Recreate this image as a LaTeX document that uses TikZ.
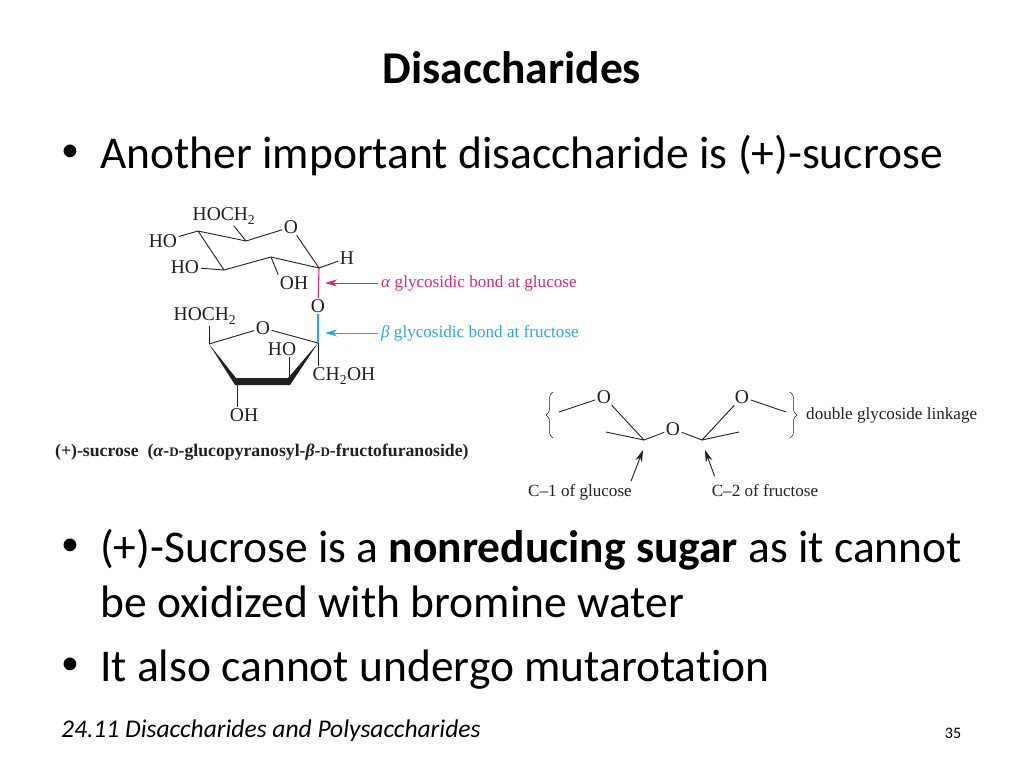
\documentclass[tikz,border=0pt]{standalone}
\usepackage{fontspec}
\setmainfont[RawFeature={-liga;-clig}]{Carlito}
\newfontfamily\chemfont{Liberation Serif}
\usetikzlibrary{arrows.meta,decorations.pathreplacing}
\definecolor{chemink}{HTML}{231F20}
\definecolor{alphapink}{HTML}{D9267F}
\definecolor{betablue}{HTML}{29A8E0}
\tikzset{
  slidetext/.style={anchor=base west,inner sep=0pt,font=\fontsize{45.5}{55}\selectfont,align=left},
  bullettext/.style={anchor=base west,inner sep=0pt,font=\fontsize{36}{40}\selectfont},
  atom/.style={inner sep=1.5pt,text=chemink,font=\chemfont\fontsize{19.5}{21}\selectfont},
  caption/.style={inner sep=3pt,font=\chemfont\fontsize{17.1}{19}\selectfont},
  bond/.style={draw=chemink,line width=0.9pt},
  pointer/.style={-{Stealth[length=12pt,width=7pt]},line width=0.9pt},
}
\begin{document}
\begin{tikzpicture}[x=1pt,y=-1pt]
    \useasboundingbox (0,0) rectangle (1024,768);

    % Slide text
    \node[anchor=base,inner sep=0pt,font=\fontsize{45.5}{50}\selectfont\bfseries] (title) at (512,83) {Disaccharides};
    \node[bullettext] (bulleta) at (61,161) {•};
    \node[slidetext] (linea) at (100,168) {Another important disaccharide is (+)-sucrose};
    \node[bullettext] (bulletb) at (61,555) {•};
    \node[slidetext] (lineb) at (100,617) {(+)-Sucrose is a \textbf{nonreducing sugar} as it cannot\\be oxidized with bromine water};
    \node[bullettext] (bulletc) at (61,674) {•};
    \node[slidetext] (linec) at (100,681) {It also cannot undergo mutarotation};
    \node[anchor=base west,inner sep=0pt,font=\fontsize{25.5}{28}\selectfont\itshape] (footer) at (61,737) {24.11 Disaccharides and Polysaccharides};
    \node[anchor=base,inner sep=0pt,font=\fontsize{16}{20}\selectfont] (pagenum) at (953,738) {35};

    % Glucose ring
    \coordinate (ga) at (198,231);
    \coordinate (gb) at (246,241);
    \coordinate (gc) at (319,268);
    \coordinate (gd) at (271,257);
    \coordinate (ge) at (224,270);
    \node[atom] (go) at (291,227) {O};
    \node[atom] (ghoch) at (224,216) {HOCH\textsubscript{2}};
    \node[atom] (gho) at (163,241) {HO};
    \node[atom] (ghob) at (185,267) {HO};
    \node[atom] (goh) at (294,283) {OH};
    \node[atom] (gh) at (347,258) {H};
    \draw[bond] (ga) -- (gb) -- (go) -- (gc) -- (gd) -- (ge) -- (ga);
    \draw[bond] (ghoch.-45) -- (gb);
    \draw[bond] (gho) -- (ga);
    \draw[bond] (ghob) -- (ge);
    \draw[bond] (gd) -- (goh.north west);
    \draw[bond] (gc) -- (gh);

    % Bridge oxygen
    \node[atom] (bridge) at (318,306) {O};
    \draw[draw=alphapink,line width=1.1pt] (gc) -- (bridge);

    % Fructose ring
    \coordinate (fa) at (209,344);
    \coordinate (fb) at (237,382);
    \coordinate (fc) at (289,382);
    \coordinate (fd) at (318,343);
    \coordinate (fbt) at (236,378);
    \coordinate (fct) at (288,378);
    \coordinate (fcb) at (290,385);
    \coordinate (fbb) at (235,385);
    \node[atom] (fo) at (263,328) {O};
    \node[atom] (fhoch) at (205,316) {HOCH\textsubscript{2}};
    \node[atom] (fho) at (282,349) {HO};
    \node[atom] (fch) at (344,376) {CH\textsubscript{2}OH};
    \node[atom] (foh) at (244,415) {OH};
    \draw[bond] (fa) -- (fo) -- (fd);
    \fill[chemink] (fa) -- (fbt) -- (fct) -- (fd) -- (fcb) -- (fbb) -- cycle;
    \draw[bond] (fa |- fhoch.south) -- (fa);
    \draw[bond] (fc |- fho.south) -- (fc);
    \draw[bond] (fd) -- (fd |- fch.north);
    \draw[bond] (fb) -- (fb |- foh.north);
    \draw[draw=betablue,line width=1.1pt] (bridge) -- (fd);

    % Bond labels
    \coordinate (alphatip) at (325,283);
    \coordinate (betatip) at (325,333);
    \node[caption,anchor=west,text=alphapink] (alphalabel) at (378,283) {\textit{α} glycosidic bond at glucose};
    \node[caption,anchor=west,text=betablue] (betalabel) at (378,333) {\textit{β} glycosidic bond at fructose};
    \draw[pointer,alphapink] (alphalabel) -- (alphatip);
    \draw[pointer,betablue] (betalabel) -- (betatip);

    \node[anchor=base west,inner sep=0pt,text=chemink,font=\chemfont\fontsize{17.7}{19}\selectfont\bfseries] (namelabel) at (55,456) {(+)-sucrose\enspace(\textit{α}-{\fontsize{13}{14}\selectfont D}-glucopyranosyl-\textit{β}-{\fontsize{13}{14}\selectfont D}-fructofuranoside)};

    % Linkage
    \node[atom] (loa) at (604,397) {O};
    \node[atom] (lob) at (742,397) {O};
    \node[atom] (loc) at (673,429) {O};
    \coordinate (lca) at (644,440);
    \coordinate (lcb) at (702,440);
    \coordinate (lea) at (559,412);
    \coordinate (leb) at (606,432);
    \coordinate (lec) at (739,432);
    \coordinate (led) at (786,412);
    \draw[bond] (lea) -- (loa) -- (lca) -- (loc) -- (lcb) -- (lob) -- (led);
    \draw[bond] (leb) -- (lca);
    \draw[bond] (lec) -- (lcb);
    \draw[bond,line width=0.5pt,decorate,decoration={brace,amplitude=7pt}] (553,438) -- (553,392);
    \draw[bond,line width=0.5pt,decorate,decoration={brace,amplitude=7pt}] (790,392) -- (790,438);
    \node[caption,anchor=west,text=chemink] (linklabel) at (803,415) {double glycoside linkage};
    \node[caption,anchor=base,inner sep=1pt,text=chemink] (cone) at (580,496) {C–1 of glucose};
    \node[caption,anchor=base,inner sep=1pt,text=chemink] (ctwo) at (765,496) {C–2 of fructose};
    \coordinate (conetip) at (643,450);
    \coordinate (ctwotip) at (705,450);
    \draw[pointer,chemink] ([shift={(-2pt,1.5pt)}]cone.north east) -- (conetip);
    \draw[pointer,chemink] ([shift={(4pt,6.5pt)}]ctwo.north west) -- (ctwotip);
\end{tikzpicture}
\end{document}
